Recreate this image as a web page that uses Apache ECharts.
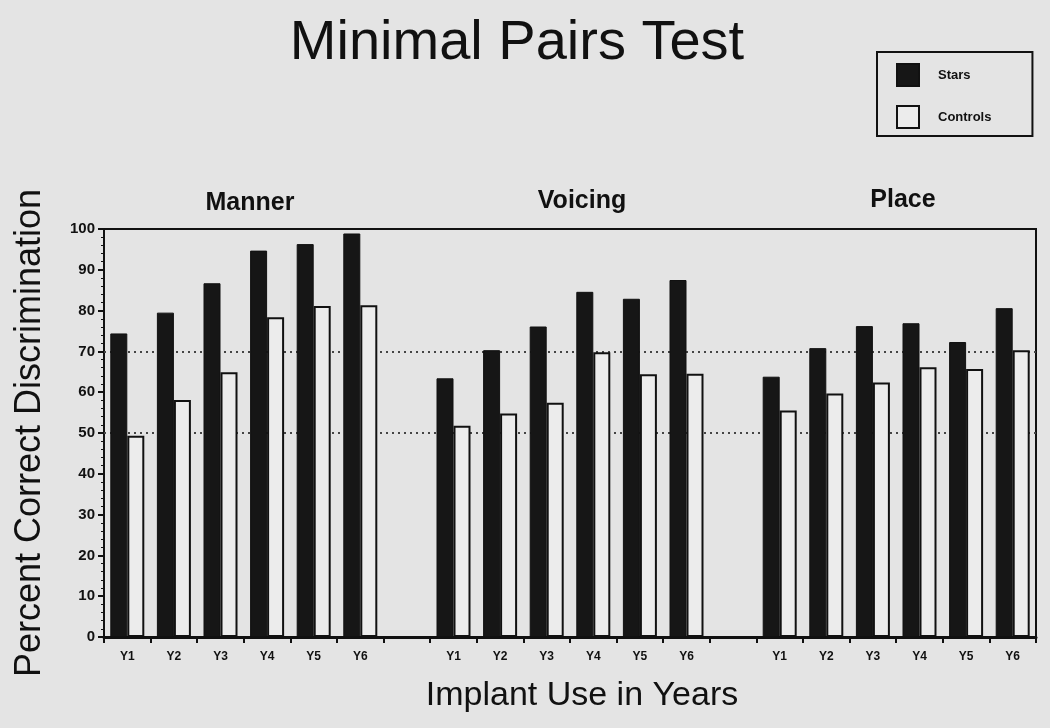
<!DOCTYPE html>
<html>
<head>
<meta charset="utf-8">
<title>Minimal Pairs Test</title>
<script src="https://cdn.jsdelivr.net/npm/echarts/dist/echarts.min.js"></script>
<style>
  html, body { margin: 0; padding: 0; background: #e4e4e4; }
  #chart { width: 1050px; height: 728px; }
</style>
</head>
<body>
<div id="chart"></div>
<script>
// groups and years
var groups = ["Manner", "Voicing", "Place"];
var years = ["Y1", "Y2", "Y3", "Y4", "Y5", "Y6"];

// values (percent)
var mannerStars = [74.4, 79.5, 86.7, 94.7, 96.3, 98.9];
var mannerControls = [49.3, 58.1, 64.9, 78.4, 81.1, 81.3];
var voicingStars = [63.4, 70.3, 76.1, 84.6, 82.9, 87.5];
var voicingControls = [51.8, 54.8, 57.4, 69.8, 64.4, 64.5];
var placeStars = [63.8, 70.8, 76.2, 76.9, 72.3, 80.6];
var placeControls = [55.5, 59.7, 62.4, 66.1, 65.7, 70.3];

var refLines = [70, 50];

// one empty slot between groups
var categories = [];
var stars = [];
var controls = [];
[[mannerStars, mannerControls], [voicingStars, voicingControls], [placeStars, placeControls]].forEach(function (g, gi) {
  if (gi > 0) {
    categories.push("gap" + gi);
    stars.push(null);
    controls.push(null);
  }
  years.forEach(function (y, i) {
    categories.push(groups[gi] + "-" + y);
    stars.push(g[0][i]);
    controls.push(g[1][i]);
  });
});

var chart = echarts.init(document.getElementById("chart"));

var font = "Liberation Sans, Arial, sans-serif";

chart.setOption({
  backgroundColor: "#e4e4e4",
  animation: false,
  textStyle: { fontFamily: font, color: "#111" },
  title: [
    {
      text: "Minimal Pairs Test",
      left: 517, top: 16, padding: 0, textAlign: "center",
      textStyle: { fontSize: 56, fontWeight: "normal", color: "#111", fontFamily: font }
    },
    {
      text: groups[0], left: 250, top: 191, padding: 0, textAlign: "center",
      textStyle: { fontSize: 25, fontWeight: "bold", color: "#111", fontFamily: font }
    },
    {
      text: groups[1], left: 582, top: 189, padding: 0, textAlign: "center",
      textStyle: { fontSize: 25, fontWeight: "bold", color: "#111", fontFamily: font }
    },
    {
      text: groups[2], left: 903, top: 188, padding: 0, textAlign: "center",
      textStyle: { fontSize: 25, fontWeight: "bold", color: "#111", fontFamily: font }
    }
  ],
  legend: {
    orient: "vertical",
    left: 877,
    top: 52,
    padding: [11, 41, 7, 19],
    borderColor: "#111",
    borderWidth: 2,
    itemWidth: 22,
    itemHeight: 22,
    itemGap: 18,
    icon: "rect",
    textStyle: { fontSize: 13, fontWeight: "bold", color: "#111", padding: [0, 0, 0, 14] },
    data: ["Stars", "Controls"]
  },
  grid: {
    left: 104, right: 14, top: 229, bottom: 91,
    show: true,
    borderColor: "#111",
    borderWidth: 2,
    backgroundColor: "transparent"
  },
  xAxis: {
    type: "category",
    data: categories,
    boundaryGap: true,
    name: "Implant Use in Years",
    nameLocation: "middle",
    nameGap: 42,
    nameTextStyle: { fontSize: 34, color: "#111", padding: [0, 0, 0, 24] },
    axisLine: { lineStyle: { color: "#111", width: 3 } },
    axisTick: { show: true, interval: 0, length: 6, lineStyle: { color: "#111", width: 2 } },
    axisLabel: {
      interval: 0,
      margin: 14,
      fontSize: 12,
      fontWeight: "bold",
      color: "#111",
      formatter: function (v) { return v.indexOf("-") > 0 ? v.split("-")[1] : ""; }
    },
    splitLine: { show: false }
  },
  yAxis: {
    type: "value",
    min: 0,
    max: 100,
    interval: 10,
    name: "Percent Correct Discrimination",
    nameLocation: "middle",
    nameRotate: 90,
    nameGap: 56,
    nameTextStyle: { fontSize: 36, color: "#111" },
    axisLine: { show: true, lineStyle: { color: "#111", width: 2 } },
    axisTick: { show: true, length: 6, lineStyle: { color: "#111", width: 2 } },
    minorTick: { show: true, splitNumber: 5, length: 3, lineStyle: { color: "#111", width: 1 } },
    axisLabel: { fontSize: 15, fontWeight: "bold", color: "#111", margin: 9 },
    splitLine: { show: false }
  },
  series: [
    {
      name: "Stars",
      type: "bar",
      data: stars,
      barWidth: 17,
      barGap: "0%",
      itemStyle: { color: "#161616", borderColor: "#111", borderWidth: 1 },
      markLine: {
        z: 1,
        silent: true,
        symbol: ["none", "none"],
        label: { show: false },
        lineStyle: { color: "#444", width: 2, type: [2, 4] },
        data: refLines.map(function (v) { return { yAxis: v }; })
      }
    },
    {
      name: "Controls",
      type: "bar",
      data: controls,
      barWidth: 17,
      barGap: "0%",
      itemStyle: { color: "#ececec", borderColor: "#111", borderWidth: 2 }
    }
  ]
});
</script>
</body>
</html>
